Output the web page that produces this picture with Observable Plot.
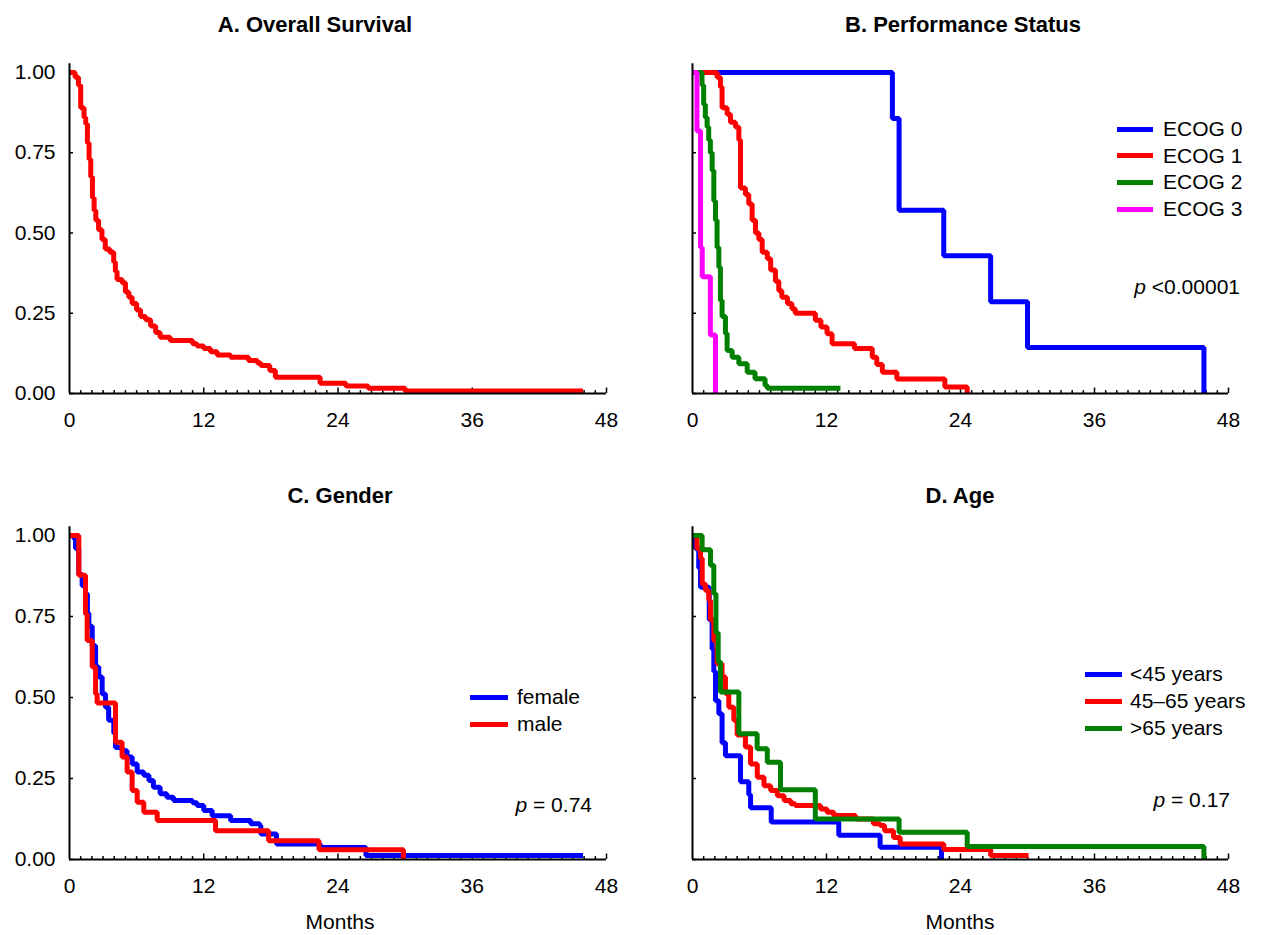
<!DOCTYPE html>
<html>
<head>
<meta charset="utf-8">
<script src="https://cdn.jsdelivr.net/npm/d3@7"></script>
<script src="https://cdn.jsdelivr.net/npm/@observablehq/plot@0.6"></script>
<style>
  body { margin: 0; background: white; }
  #fig { position: relative; width: 1269px; height: 935px; background: white; font-family: "Liberation Sans", Arial, sans-serif; color: black; overflow: hidden; }
  .panel { position: absolute; }
  .txt { position: absolute; white-space: nowrap; transform: translate(-50%, -50%); }
  .title { font-weight: bold; font-size: 22px; }
  .lab { font-size: 21px; }
  .pval { position: absolute; white-space: nowrap; font-size: 21px; transform: translate(-100%, -50%); }
  .leg { position: absolute; font-size: 21px; white-space: nowrap; }
  .leg .row { position: absolute; left: 0; display: flex; align-items: center; transform: translateY(-50%); }
  .leg .sw { display: inline-block; height: 5px; }
</style>
</head>
<body>
<div id="fig"></div>
<script>
// ---------------- data ----------------
const xTicks = [0, 12, 24, 36, 48];
const yTicks = [0, 0.25, 0.5, 0.75, 1];
const monthTicks = d3.range(1, 49);

// A. Overall survival
const overallT = [0, 0.5, 0.8, 1.0, 1.3, 1.45, 1.6, 1.75, 1.9, 2.05, 2.2, 2.35, 2.6, 2.9, 3.2, 3.6, 3.95, 4.1, 4.25, 4.7, 5.0, 5.3, 5.6, 6.0, 6.35, 6.8, 7.25, 7.7, 8.1, 9.0, 11.0, 11.4, 12.0, 12.6, 13.2, 14.4, 16.0, 16.8, 17.1, 17.9, 18.4, 22.4, 24.7, 26.7, 30.0, 45.9];
const overallS = [1.0, 0.985, 0.96, 0.89, 0.86, 0.84, 0.78, 0.73, 0.675, 0.61, 0.57, 0.54, 0.51, 0.48, 0.45, 0.44, 0.41, 0.38, 0.355, 0.345, 0.316, 0.30, 0.28, 0.26, 0.24, 0.23, 0.21, 0.19, 0.175, 0.165, 0.155, 0.148, 0.14, 0.13, 0.12, 0.113, 0.103, 0.095, 0.087, 0.072, 0.051, 0.032, 0.023, 0.016, 0.008, 0.008];

// B. Performance status
const ecogLabels = ["ECOG 0", "ECOG 1", "ECOG 2", "ECOG 3"];
const ecogColors = ["#0000ff", "#ff0000", "#008000", "#ff00ff"];
const ecog0T = [0, 17.9, 18.5, 22.5, 26.7, 30.0, 45.8];
const ecog0S = [1, 0.857, 0.571, 0.429, 0.286, 0.143, 0];
const ecog1T = [0, 2.2, 2.5, 2.65, 3.1, 3.4, 3.85, 4.15, 4.3, 4.74, 5.04, 5.34, 5.64, 5.94, 6.24, 6.7, 7.0, 7.43, 7.73, 8.0, 8.5, 8.9, 9.2, 11.0, 11.5, 12.05, 12.5, 14.5, 16.1, 16.5, 17.0, 18.3, 22.6, 24.6];
const ecog1S = [1, 0.985, 0.955, 0.89, 0.87, 0.845, 0.83, 0.79, 0.64, 0.62, 0.59, 0.54, 0.50, 0.48, 0.44, 0.42, 0.385, 0.35, 0.32, 0.30, 0.28, 0.264, 0.25, 0.228, 0.207, 0.186, 0.155, 0.14, 0.113, 0.09, 0.066, 0.045, 0.02, 0];
const ecog2T = [0, 0.85, 1.0, 1.15, 1.31, 1.45, 1.6, 1.76, 1.91, 2.06, 2.2, 2.36, 2.5, 2.65, 2.95, 3.1, 3.55, 4.15, 4.9, 5.6, 6.5, 6.7, 13.25];
const ecog2S = [1, 0.96, 0.9, 0.86, 0.83, 0.79, 0.75, 0.695, 0.6, 0.54, 0.455, 0.393, 0.29, 0.24, 0.187, 0.134, 0.113, 0.093, 0.066, 0.046, 0.025, 0.016, 0.016];
const ecog3T = [0, 0.4, 0.72, 0.87, 1.6, 2.06];
const ecog3S = [1, 0.818, 0.455, 0.364, 0.182, 0];

// C. Gender
const genderLabels = ["female", "male"];
const genderColors = ["#0000ff", "#ff0000"];
const femaleT = [0, 0.4, 0.54, 0.83, 1.13, 1.43, 1.6, 1.73, 2.03, 2.33, 2.62, 2.92, 3.22, 3.5, 3.96, 4.11, 4.7, 5.15, 5.6, 6.05, 6.64, 7.1, 7.5, 8.1, 8.7, 9.3, 11.0, 11.4, 12.0, 12.75, 14.4, 16.2, 17.0, 17.1, 18.5, 22.4, 26.5, 45.9];
const femaleS = [1, 0.99, 0.96, 0.88, 0.845, 0.82, 0.76, 0.72, 0.66, 0.594, 0.563, 0.511, 0.47, 0.43, 0.39, 0.346, 0.336, 0.316, 0.295, 0.27, 0.26, 0.244, 0.223, 0.203, 0.192, 0.182, 0.175, 0.167, 0.151, 0.135, 0.12, 0.11, 0.105, 0.079, 0.048, 0.037, 0.012, 0.012];
const maleT = [0, 0.83, 1.43, 1.58, 2.03, 2.33, 2.47, 4.11, 4.7, 5.15, 5.6, 6.05, 6.64, 7.84, 13.05, 17.8, 22.3, 29.85];
const maleS = [1, 0.877, 0.758, 0.676, 0.594, 0.511, 0.483, 0.362, 0.316, 0.27, 0.213, 0.177, 0.146, 0.12, 0.089, 0.058, 0.03, 0];

// D. Age
const ageLabels = ["<45 years", "45\u201365 years", ">65 years"];
const ageColors = ["#0000ff", "#ff0000", "#008000"];
const youngT = [0, 0.27, 0.56, 0.72, 1.5, 1.76, 1.91, 2.06, 2.36, 2.65, 2.95, 4.3, 5.04, 5.2, 7.05, 13.1, 16.8, 22.3];
const youngS = [1, 0.96, 0.9, 0.84, 0.74, 0.65, 0.58, 0.49, 0.45, 0.36, 0.32, 0.24, 0.2, 0.16, 0.116, 0.075, 0.038, 0];
const midT = [0, 0.4, 0.72, 0.87, 1.16, 1.46, 1.61, 1.91, 2.2, 2.65, 2.95, 3.25, 3.7, 4.0, 4.74, 5.2, 5.8, 6.4, 7.0, 7.6, 8.2, 8.8, 9.2, 11.46, 12.05, 12.65, 14.6, 16.2, 16.8, 17.2, 18.0, 18.6, 22.5, 26.7, 30.1];
const midS = [1, 0.96, 0.93, 0.85, 0.83, 0.8, 0.74, 0.675, 0.604, 0.563, 0.512, 0.47, 0.43, 0.384, 0.347, 0.295, 0.254, 0.228, 0.213, 0.197, 0.182, 0.172, 0.167, 0.156, 0.146, 0.136, 0.125, 0.11, 0.105, 0.089, 0.068, 0.048, 0.031, 0.012, 0.012];
const oldT = [0, 0.86, 1.61, 1.91, 2.1, 2.3, 2.5, 4.15, 5.79, 6.7, 7.88, 11.0, 18.5, 24.6, 45.8];
const oldS = [1, 0.956, 0.908, 0.82, 0.70, 0.61, 0.517, 0.388, 0.342, 0.3, 0.215, 0.125, 0.084, 0.04, 0];

const pTexts = ["<0.00001", "= 0.74", "= 0.17"];

// ---------------- drawing ----------------
const FONT = '"Liberation Sans", Arial, sans-serif';
const toRows = (T, S) => T.map((t, i) => ({t, s: S[i]}));

function panel({series, width, height, marginLeft, marginRight, marginTop, marginBottom, yLabels}) {
  return Plot.plot({
    width, height, marginLeft, marginRight, marginTop, marginBottom,
    x: {domain: [0, 48], axis: null},
    y: {domain: [0, 1], axis: null},
    style: {fontFamily: FONT, fontSize: "21px", color: "black", background: "transparent", overflow: "visible"},
    marks: [
      Plot.axisX({ticks: xTicks, tickSize: 0, tickPadding: 19, tickFormat: d => String(d), fontSize: 21, label: null}),
      yLabels ? Plot.axisY({ticks: yTicks, tickSize: 0, tickPadding: 14, tickFormat: d => d.toFixed(2), fontSize: 21, label: null}) : null,
      Plot.ruleX(monthTicks, {x: d => d, y1: 0, y2: d => (d % 12 === 0 ? 0.017 : 0.009), stroke: "black", strokeWidth: 1.5}),
      Plot.ruleY(yTicks, {y: d => d, x1: 0, x2: 0.36, stroke: "black", strokeWidth: 1.5}),
      ...series.map(s => Plot.line(toRows(s.T, s.S), {x: "t", y: "s", curve: "step-after", stroke: s.color, strokeWidth: 5, strokeLinejoin: "miter", strokeLinecap: "butt"})),
      Plot.ruleY([0], {x1: 0, x2: 48, stroke: "black", strokeWidth: 2}),
      Plot.ruleX([0], {y1: 0, y2: 1.027, stroke: "black", strokeWidth: 2})
    ]
  });
}

const fig = document.getElementById("fig");
function place(el, left, top) {
  const w = document.createElement("div");
  w.className = "panel";
  w.style.left = left + "px";
  w.style.top = top + "px";
  w.appendChild(el);
  fig.appendChild(w);
}
function text(cls, str, x, y) {
  const d = document.createElement("div");
  d.className = "txt " + cls;
  d.style.left = x + "px";
  d.style.top = y + "px";
  d.textContent = str;
  fig.appendChild(d);
}
function pval(str, xRight, y) {
  const d = document.createElement("div");
  d.className = "pval";
  d.style.left = xRight + "px";
  d.style.top = y + "px";
  d.innerHTML = "<i>p</i> " + str;
  fig.appendChild(d);
}
function legend(labels, colors, x, y0, dy, swW, gap) {
  const d = document.createElement("div");
  d.className = "leg";
  d.style.left = x + "px";
  d.style.top = y0 + "px";
  labels.forEach((lab, i) => {
    const r = document.createElement("div");
    r.className = "row";
    r.style.top = (i * dy) + "px";
    r.innerHTML = `<span class="sw" style="width:${swW}px;background:${colors[i]};margin-right:${gap}px"></span><span>${lab}</span>`;
    d.appendChild(r);
  });
  fig.appendChild(d);
}

// Panel A
place(panel({
  series: [{T: overallT, S: overallS, color: "#ff0000"}],
  width: 634, height: 440, marginLeft: 69, marginRight: 28, marginTop: 32, marginBottom: 87, yLabels: true
}), 0, 40);

// Panel B
place(panel({
  series: [
    {T: ecog0T, S: ecog0S, color: ecogColors[0]},
    {T: ecog1T, S: ecog1S, color: ecogColors[1]},
    {T: ecog2T, S: ecog2S, color: ecogColors[2]},
    {T: ecog3T, S: ecog3S, color: ecogColors[3]}
  ],
  width: 635, height: 440, marginLeft: 58, marginRight: 41, marginTop: 32, marginBottom: 87, yLabels: false
}), 634, 40);

// Panel C
place(panel({
  series: [
    {T: femaleT, S: femaleS, color: genderColors[0]},
    {T: maleT, S: maleS, color: genderColors[1]}
  ],
  width: 634, height: 455, marginLeft: 69, marginRight: 28, marginTop: 55, marginBottom: 76, yLabels: true
}), 0, 480);

// Panel D
place(panel({
  series: [
    {T: youngT, S: youngS, color: ageColors[0]},
    {T: midT, S: midS, color: ageColors[1]},
    {T: oldT, S: oldS, color: ageColors[2]}
  ],
  width: 635, height: 455, marginLeft: 58, marginRight: 41, marginTop: 55, marginBottom: 76, yLabels: false
}), 634, 480);

// Titles and labels
text("title", "A. Overall Survival", 315, 25);
text("title", "B. Performance Status", 963, 25);
text("title", "C. Gender", 340, 496);
text("title", "D. Age", 960, 496);
text("lab", "Months", 340, 922);
text("lab", "Months", 960, 922);

// Legends
legend(ecogLabels, ecogColors, 1117, 129, 26.7, 36, 10);
legend(genderLabels, genderColors, 470, 697, 27, 38, 9);
legend(ageLabels, ageColors, 1085, 674, 27, 37, 8);

// p-values
pval(pTexts[0], 1240, 287);
pval(pTexts[1], 592, 805);
pval(pTexts[2], 1230, 800);
</script>
</body>
</html>
